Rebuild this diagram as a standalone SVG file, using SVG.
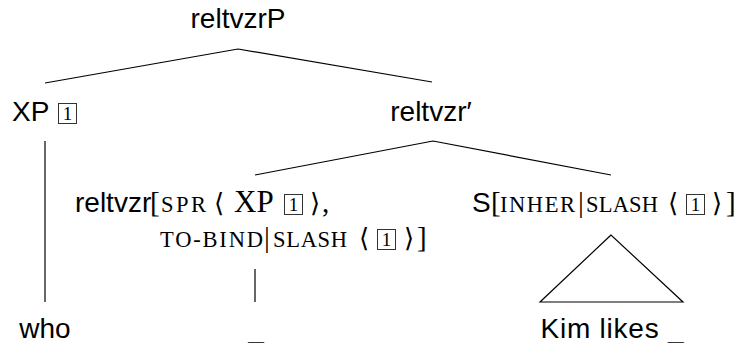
<svg xmlns="http://www.w3.org/2000/svg" width="747" height="343" viewBox="0 0 747 343">
<style>
.sans{font-family:"Liberation Sans","DejaVu Sans",sans-serif;font-size:28px;fill:#000}
.serif{font-family:"Liberation Serif","DejaVu Serif",serif;font-size:29px;fill:#000}
.big{font-size:31px}
.ang{font-family:"DejaVu Serif","DejaVu Sans",serif;font-size:26px;fill:#000}
.sc{font-family:"Liberation Serif","DejaVu Serif",serif;font-size:22.5px;fill:#000}
.num{font-family:"Liberation Serif","DejaVu Serif",serif;font-size:19px;fill:#000;text-anchor:middle}
.box{fill:none;stroke:#333;stroke-width:1}
.mid{text-anchor:middle}
.edge{stroke:#000;stroke-width:1.2;fill:none}
</style>
<g id="connectors">
<path class="edge" d="M238,49 L45,83 M238,49 L432,82"/>
<path class="edge" d="M433,141 L255,175 M433,141 L611,175"/>
<path class="edge" d="M45,141 L45,302"/>
<path class="edge" d="M255,269 L255,302"/>
<path class="edge" d="M611,235 L540,302 L683,302 Z"/>
</g>
<g id="root">
<text class="sans mid" x="238" y="28">reltvzrP</text>
</g>
<g id="xp">
<text class="sans" x="12" y="121">XP</text>
<rect class="box" x="58.5" y="103.5" width="18" height="20"/>
<text class="num" x="67.5" y="120">1</text>
</g>
<g id="reltvzr-bar">
<text class="sans mid" x="431" y="121">reltvzr′</text>
</g>
<g id="reltvzr-head">
<text class="sans" x="75" y="212">reltvzr</text>
<text class="serif" x="150" y="212">[</text>
<text class="sc" x="161" y="212" textLength="45" lengthAdjust="spacing">SPR</text>
<text class="ang" x="214" y="212">⟨</text>
<text class="serif big" x="234" y="212">XP</text>
<rect class="box" x="284.5" y="194.5" width="18" height="20"/>
<text class="num" x="293.5" y="211">1</text>
<text class="ang" x="310" y="212">⟩</text>
<text class="serif" x="322" y="212">,</text>
<text class="sc" x="160" y="247" textLength="103" lengthAdjust="spacing">TO-BIND</text>
<text class="serif" x="264" y="247">|</text>
<text class="sc" x="273" y="247" textLength="74" lengthAdjust="spacing">SLASH</text>
<text class="ang" x="359" y="247">⟨</text>
<rect class="box" x="377.5" y="229.5" width="18" height="20"/>
<text class="num" x="386.5" y="246">1</text>
<text class="ang" x="404" y="247">⟩</text>
<text class="serif" x="417" y="247">]</text>
</g>
<g id="s-node">
<text class="sans" x="472" y="212">S</text>
<text class="serif" x="491" y="212">[</text>
<text class="sc" x="500" y="212" textLength="75" lengthAdjust="spacing">INHER</text>
<text class="serif" x="578" y="212">|</text>
<text class="sc" x="586" y="212" textLength="72" lengthAdjust="spacing">SLASH</text>
<text class="ang" x="668" y="212">⟨</text>
<rect class="box" x="686.5" y="194.5" width="18" height="20"/>
<text class="num" x="695.5" y="211">1</text>
<text class="ang" x="712" y="212">⟩</text>
<text class="serif" x="726" y="212">]</text>
</g>
<g id="who">
<text class="sans mid" x="45" y="338">who</text>
</g>
<g id="gap">
<text class="sans mid" x="256" y="338">_</text>
</g>
<g id="kim">
<text class="sans mid" x="612" y="338" textLength="143" lengthAdjust="spacing">Kim likes _</text>
</g>
</svg>
